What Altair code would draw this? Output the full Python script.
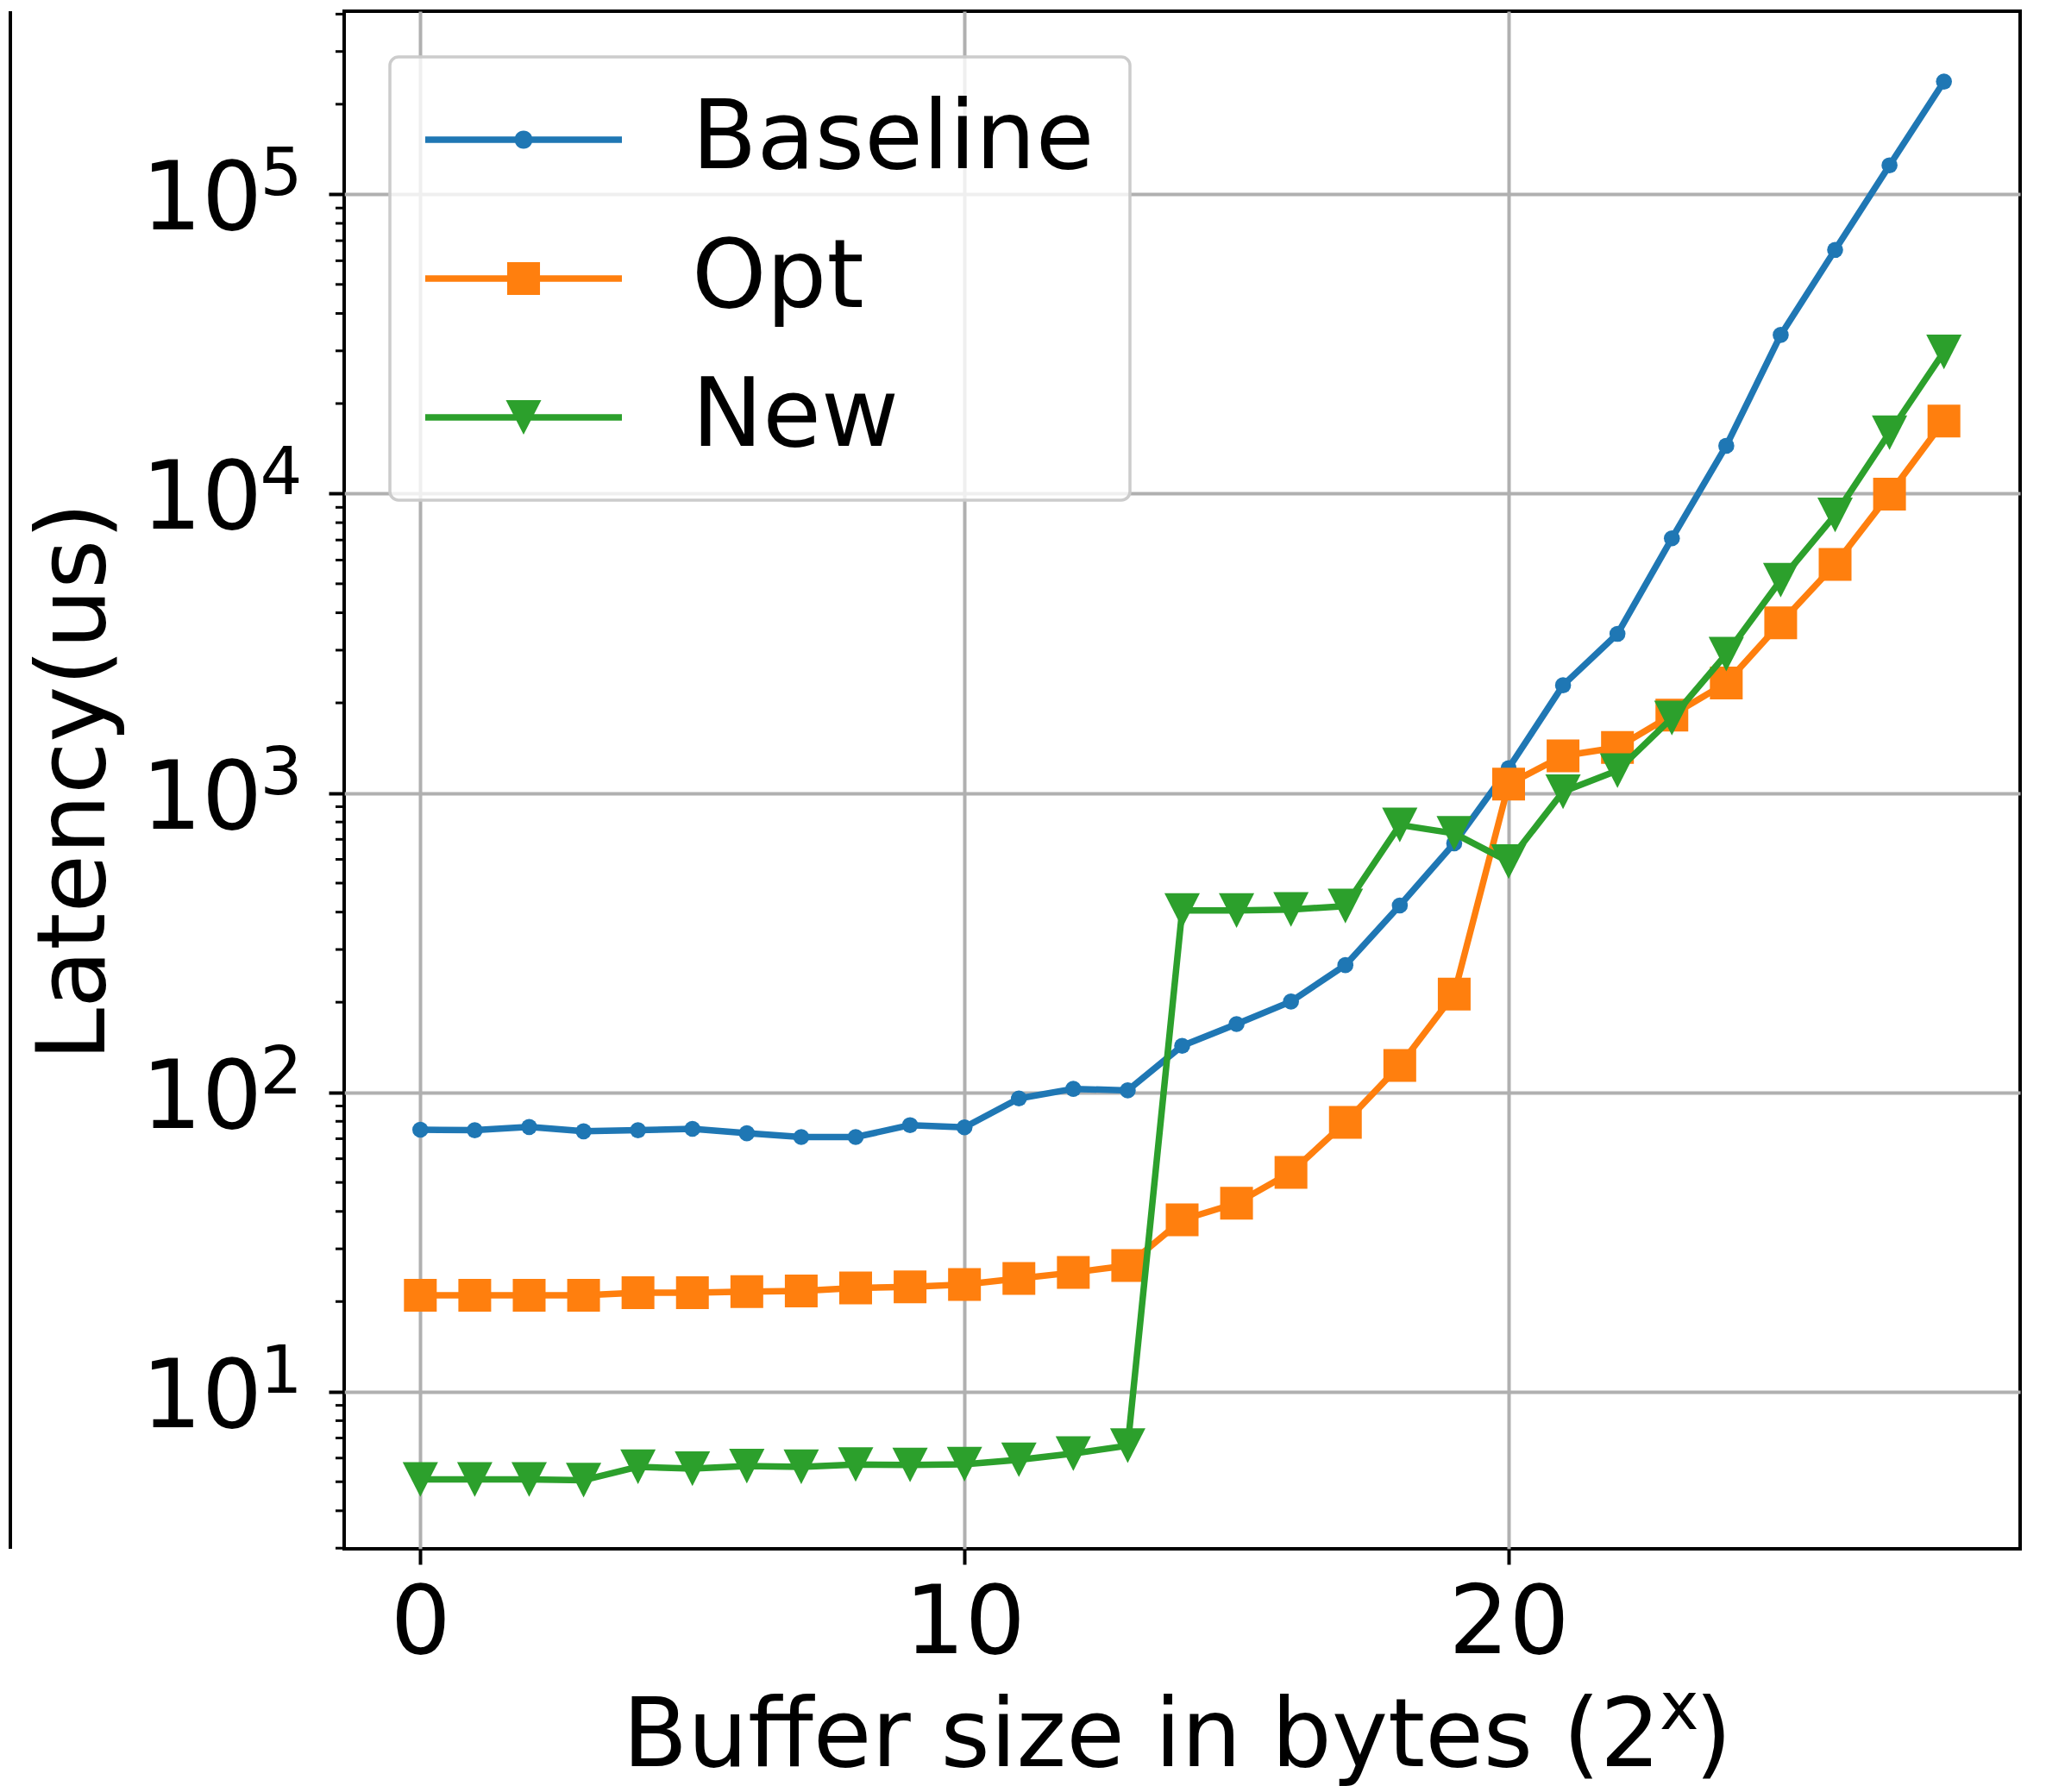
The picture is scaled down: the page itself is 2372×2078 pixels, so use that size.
import altair as alt
import pandas as pd

# ---------------- data ----------------
x_vals = list(range(29))
baseline = [75.0, 74.7, 76.6, 74.1, 74.7, 75.5, 73.0, 70.9, 70.9, 77.7, 76.4, 95.4, 102.7, 101.5,
            143, 169, 201, 266, 421, 679, 1210, 2290, 3400, 7090, 14450, 33900, 65200, 125000, 238000]
opt = [21.0, 21.0, 21.0, 21.0, 21.4, 21.4, 21.6, 21.7, 22.2, 22.4, 22.8, 23.9, 25.0, 26.4,
       37.5, 42.6, 54.0, 79.3, 123, 213, 1070, 1330, 1420, 1820, 2330, 3700, 5800, 9970, 17490]
new = [5.09, 5.09, 5.09, 5.06, 5.61, 5.53, 5.64, 5.61, 5.71, 5.69, 5.72, 5.92, 6.21, 6.6,
       405, 405, 408, 419, 782, 733, 590, 1010, 1188, 1780, 2910, 5140, 8490, 15980, 29760]

series_names = ["Baseline", "Opt", "New"]
series_colors = ["#1f77b4", "#ff7f0e", "#2ca02c"]

x_ticks = [0, 10, 20]
y_ticks = [10, 100, 1000, 10000, 100000]
y_tick_base = ["10", "10", "10", "10", "10"]
y_tick_exp = ["1", "2", "3", "4", "5"]
y_minor = [m * 10 ** k for k in range(0, 6) for m in range(2, 10)]
y_minor = [v for v in y_minor if 2.985 <= v <= 4.09e5]

x_title_main = "Buffer size in bytes (2"
x_title_sup = "x"
x_title_end = ")"
y_title = "Latency(us)"

# ---------------- geometry ----------------
W, H = 1943, 1783
FONT = "DejaVu Sans"
FS = 110

xs = alt.Scale(domain=[-1.4, 29.4], nice=False, zero=False)
ys = alt.Scale(type="log", domain=[2.985, 4.09e5], nice=False)

x_axis = alt.Axis(values=x_ticks, tickSize=18, tickWidth=4, tickColor="black",
                  labelFontSize=FS, labelPadding=15, labelFlush=False, labelColor="black",
                  domain=False, grid=True, gridColor="#b0b0b0", gridWidth=4, title=None)
y_axis = alt.Axis(values=y_ticks, labels=False, tickSize=18, tickWidth=4, tickColor="black",
                  domain=False, grid=True, gridColor="#b0b0b0", gridWidth=4,
                  title=y_title, titleFontSize=FS, titleFontWeight="normal",
                  titleAngle=270, titleBaseline="alphabetic", titleAlign="center",
                  titleX=-279, titleY=893)

X = alt.X("x:Q", scale=xs, axis=x_axis)
Y = alt.Y("y:Q", scale=ys, axis=y_axis)

# ---------------- marker shapes ----------------
tri_down = "M0,0.98 L-1,-0.98 L1,-0.98 Z"
marker_shapes = ["circle", "square", tri_down]
marker_sizes = [346, 1444, 1681]

# legend symbols: line segment + marker (unit = 114 px)
line_seg = "M-1,-0.033 L1,-0.033 L1,0.033 L-1,0.033 Z "
leg_paths = [
    line_seg + "M0.092,0 A0.092,0.092 0 1,1 -0.092,0 A0.092,0.092 0 1,1 0.092,0 Z",
    line_seg + "M-0.167,-0.167 L0.167,-0.167 L0.167,0.167 L-0.167,0.167 Z",
    line_seg + "M-0.18,-0.175 L0.18,-0.175 L0,0.175 Z",
]

layers = []
for name, vals, col, shp, sz in zip(series_names, [baseline, opt, new], series_colors,
                                     marker_shapes, marker_sizes):
    df = pd.DataFrame({"x": x_vals, "y": vals})
    layers.append(alt.Chart(df).mark_line(color=col, strokeWidth=7.5, strokeJoin="round",
                                          strokeCap="square").encode(x=X, y=Y))
    layers.append(alt.Chart(df).mark_point(shape=shp, size=sz, filled=True, color=col,
                                           opacity=1, strokeWidth=0).encode(x=X, y=Y))

# y tick labels 10^k
df_t = pd.DataFrame({"y": y_ticks, "base": y_tick_base, "exp": y_tick_exp})
layers.append(alt.Chart(df_t).mark_text(align="right", baseline="alphabetic", font=FONT,
                                        fontSize=FS, color="black", dy=41)
              .encode(x=alt.value(-95), y=Y, text="base:N"))
layers.append(alt.Chart(df_t).mark_text(align="left", baseline="alphabetic", font=FONT,
                                        fontSize=77, color="black", dy=1)
              .encode(x=alt.value(-97.4), y=Y, text="exp:N"))

# minor log ticks
df_m = pd.DataFrame({"y": y_minor})
layers.append(alt.Chart(df_m).mark_rule(color="black", strokeWidth=3)
              .encode(y=Y, x=alt.value(-10), x2=alt.value(0)))

# x axis title with superscript
one = pd.DataFrame({"a": [0]})
layers.append(alt.Chart(one).mark_text(align="right", baseline="alphabetic", font=FONT,
                                       fontSize=FS, color="black", text=x_title_main)
              .encode(x=alt.value(1526), y=alt.value(2035)))
layers.append(alt.Chart(one).mark_text(align="left", baseline="alphabetic", font=FONT,
                                       fontSize=77, color="black", text=x_title_sup)
              .encode(x=alt.value(1525), y=alt.value(1992)))
layers.append(alt.Chart(one).mark_text(align="left", baseline="alphabetic", font=FONT,
                                       fontSize=FS, color="black", text=x_title_end)
              .encode(x=alt.value(1566), y=alt.value(2035)))

# edge of the neighbouring panel (cropped)
layers.append(alt.Chart(one).mark_rule(color="black", strokeWidth=4)
              .encode(x=alt.value(-387), y=alt.value(0), y2=alt.value(H)))

# legend layer (points clipped away, only the legend shows)
leg_legend = alt.Legend(title=None, orient="none", legendX=53, legendY=53,
                        labelFont=FONT, labelFontSize=FS, labelColor="black", labelLimit=2000,
                        labelOffset=81, symbolSize=51984, symbolStrokeWidth=0,
                        symbolOpacity=1, clipHeight=110, rowPadding=51, padding=41,
                        fillColor="rgba(255,255,255,0.8)", strokeColor="#cccccc",
                        cornerRadius=10)
df_leg = pd.DataFrame({"x": [0, 0, 0], "y": [1.0, 1.0, 1.0], "series": series_names})
layers.append(alt.Chart(df_leg).mark_point(filled=True, clip=True, opacity=1, size=51984)
              .encode(x=X, y=Y,
                      color=alt.Color("series:N", scale=alt.Scale(domain=series_names,
                                                                  range=series_colors),
                                      legend=leg_legend),
                      shape=alt.Shape("series:N", scale=alt.Scale(domain=series_names,
                                                                  range=leg_paths),
                                      legend=leg_legend)))

chart = (alt.layer(*layers)
         .properties(width=W, height=H,
                     autosize=alt.AutoSizeParams(type="none"),
                     padding={"left": 391, "top": 5, "right": 22, "bottom": 280})
         .configure(font=FONT)
         .configure_view(stroke="black", strokeWidth=4)
         .configure_axis(labelFont=FONT, titleFont=FONT, titleColor="black")
         .configure_legend(strokeWidth=3.5))

chart.save("out.html", embed_options={"renderer": "svg", "actions": False})
